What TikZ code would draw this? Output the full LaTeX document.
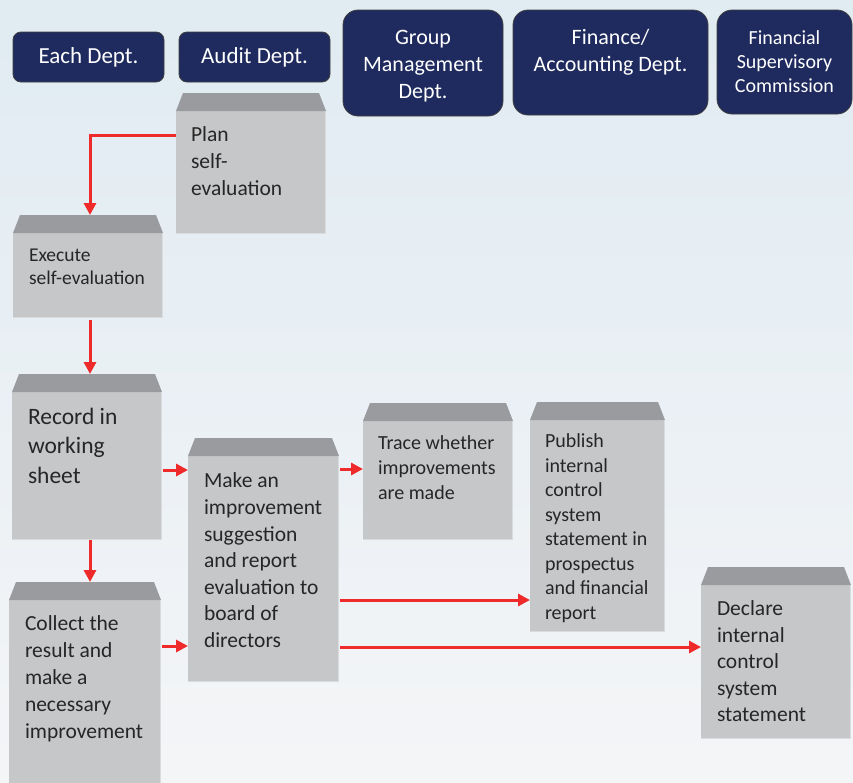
\documentclass[tikz,border=0pt]{standalone}
\usepackage{fontspec}
\setmainfont{Carlito}
\usetikzlibrary{arrows.meta,calc}
\definecolor{navy}{HTML}{1F2B5E}
\definecolor{tabgray}{HTML}{9A9B9E}
\definecolor{bodygray}{HTML}{C6C7C9}
\definecolor{edgegray}{HTML}{DADBDD}
\definecolor{arrowred}{HTML}{EE2A2A}
\definecolor{txt}{HTML}{262626}
\definecolor{bgtop}{HTML}{E0EBF2}
\definecolor{bgbot}{HTML}{F4F5F7}
\newcommand\fs[2]{\fontsize{#1}{#2}\selectfont}
\newcommand\pbox[5]{\node[pbox,minimum width={(#4-#2)*1pt},minimum height={(#5-#3)*1pt}] (#1) at (#2,#3) {};}
\begin{document}
\begin{tikzpicture}[x=1pt,y=-1pt,
 hdr/.style={draw=black!75,line width=0.8pt,fill=navy,text=white,align=center,inner sep=0,outer sep=0},
 htext/.style={text=white,align=center,inner sep=0},
 pbox/.style={inner sep=0,outer sep=0,anchor=north west,path picture={
   \fill[bodygray] ($(path picture bounding box.north west)+(0,18)$) rectangle (path picture bounding box.south east);
   \fill[tabgray] ($(path picture bounding box.north west)+(0,18)$) -- ($(path picture bounding box.north west)+(7,0)$) -- ($(path picture bounding box.north east)+(-7,0)$) -- ($(path picture bounding box.north east)+(0,18)$) -- cycle;
   \draw[edgegray,line width=1.5pt] ($(path picture bounding box.south west)+(0,-0.75)$) -- ($(path picture bounding box.south east)+(-0.75,-0.75)$) -- ($(path picture bounding box.north east)+(-0.75,18)$);
 }},
 ptext/.style={anchor=north west,inner sep=0,outer sep=0,align=left,text=txt},
 flow/.style={draw=arrowred,line width=3pt,-{Triangle[length=12pt,width=12pt]}}]
\shade[top color=bgtop,middle color=white,bottom color=bgbot] (0,0) rectangle (853,782);
\useasboundingbox (0,0) rectangle (853,782);

% header boxes
\node[hdr,rounded corners=8pt,minimum width=151pt,minimum height=50pt,font=\fs{23}{27}] (each) at (88.5,57) {Each Dept.};
\node[hdr,rounded corners=8pt,minimum width=151pt,minimum height=50pt,font=\fs{23}{27}] (audit) at (254.5,57) {Audit Dept.};
\node[hdr,rounded corners=15pt,minimum width=160pt,minimum height=106pt] (group) at (423,63) {};
\node[htext,font=\fs{22}{27}] (groupT) at (423,66) {Group\\Management\\Dept.};
\node[hdr,rounded corners=15pt,minimum width=195pt,minimum height=105pt] (fin) at (610.5,62.5) {};
\node[htext,font=\fs{22}{27}] (finT) at (610.5,52) {Finance/\\Accounting Dept.};
\node[hdr,rounded corners=15pt,minimum width=135pt,minimum height=104pt,font=\fs{20}{24}] (fsc) at (784.5,62) {Financial\\Supervisory\\Commission};

% process boxes
\pbox{plan}{176}{93}{326}{234}
\pbox{exec}{13}{215}{163}{318}
\pbox{rec}{12}{374}{162}{540}
\pbox{make}{188}{438}{339}{682}
\pbox{trace}{363}{403}{513}{540}
\pbox{pub}{530}{402}{665}{632}
\pbox{decl}{701}{567}{851}{739}
\pbox{coll}{9}{582}{161}{790}

\node[ptext,font=\fs{21.5}{27}] (planT) at (191,126.5) {Plan\\self-\\evaluation};
\node[ptext,font=\fs{19.5}{23.5}] (execT) at (29,248.5) {Execute\\self-evaluation};
\node[ptext,font=\fs{23.5}{29.5}] (recT) at (28,408) {Record in\\working\\sheet};
\node[ptext,font=\fs{21.5}{26.6}] (makeT) at (204,473) {Make an\\improvement\\suggestion\\and report\\evaluation to\\board of\\directors};
\node[ptext,font=\fs{20}{25}] (traceT) at (378,436) {Trace whether\\improvements\\are made};
\node[ptext,font=\fs{20}{24.5}] (pubT) at (545,434) {Publish\\internal\\control\\system\\statement in\\prospectus\\and financial\\report};
\node[ptext,font=\fs{21.5}{26.5}] (declT) at (717,601) {Declare\\internal\\control\\system\\statement};
\node[ptext,font=\fs{21.5}{26.8}] (collT) at (25,616) {Collect the\\result and\\make a\\necessary\\improvement};

% connectors
\draw[flow] ($(plan.north west)+(0,42)$) -| ($(exec.north west)+(77,0)$);
\draw[flow] ($(exec.south west)+(77,2)$) -- ($(rec.north west)+(78,0)$);
\draw[flow] ($(rec.south west)+(78,0)$) -- ($(coll.north west)+(81,0)$);
\draw[flow] ($(rec.north east)+(1,96)$) -- ($(make.north west)+(0,32)$);
\draw[flow] ($(coll.north east)+(1,64)$) -- ($(make.north west)+(0,208)$);
\draw[flow] ($(make.north east)+(1,31)$) -- ($(trace.north west)+(0,66)$);
\draw[flow] ($(make.north east)+(1,162)$) -- ($(pub.north west)+(0,198)$);
\draw[flow] ($(make.north east)+(1,209)$) -- ($(decl.north west)+(0,80)$);
\end{tikzpicture}
\end{document}
